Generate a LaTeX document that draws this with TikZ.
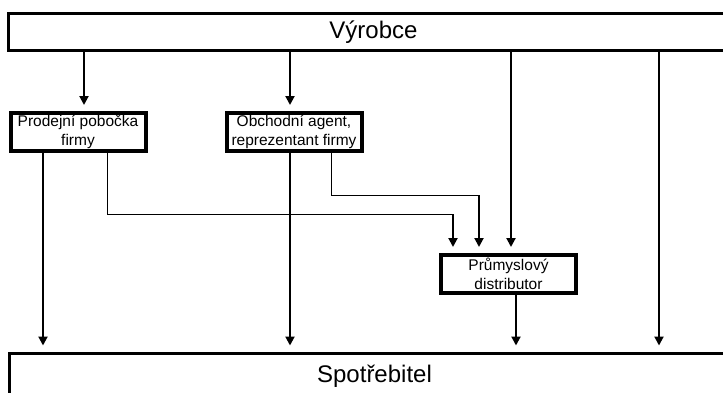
\documentclass[tikz,border=0pt]{standalone}
\usepackage{fontspec}
\setmainfont{Liberation Sans}
\usetikzlibrary{arrows.meta}

\begin{document}
\begin{tikzpicture}[x=1pt,y=-1pt,
    >={Triangle[length=9pt,width=9pt]},
    bigbox/.style={draw,line width=3pt,inner sep=0pt,minimum width=730pt,
      minimum height=37pt,font=\fontsize{24}{28}\selectfont},
    smallbox/.style={draw,line width=4pt,inner sep=0pt,minimum width=135pt,
      minimum height=38pt,align=center,font=\fontsize{15.5}{19}\selectfont},
    arr/.style={->,line width=2pt,shorten >=6pt},
    thinline/.style={line width=1pt}]
  \clip (0,0) rectangle (723,392);
  \node[bigbox] (vyrobce) at (373.5,31.7) {Výrobce};
  \node[smallbox] (prodejni) at (78,132) {Prodejní pobočka\\firmy};
  \node[smallbox] (obchodni) at (294,132) {Obchodní agent,\\reprezentant firmy};
  \node[smallbox] (prumysl) at (508.5,274) {Průmyslový\\distributor};
  \node[bigbox,minimum height=46pt] (spotreb) at (374.5,376) {Spotřebitel};
  % columns of the connectors
  \coordinate (c1) at (84,0);
  \coordinate (c2) at (290,0);
  \coordinate (c3) at (511,0);
  \coordinate (c4) at (659,0);
  \coordinate (c5) at (43,0);
  \coordinate (c6) at (107,0);
  \coordinate (c7) at (331,0);
  \coordinate (c8) at (516,0);
  \coordinate (k1) at (453,214);
  \coordinate (k2) at (479,195);
  \draw[arr] (vyrobce.south -| c1) -- (prodejni.north -| c1);
  \draw[arr] (vyrobce.south -| c2) -- (obchodni.north -| c2);
  \draw[arr] (vyrobce.south -| c3) -- (prumysl.north -| c3);
  \draw[arr] (vyrobce.south -| c4) -- (spotreb.north -| c4);
  \draw[arr] (prodejni.south -| c5) -- (spotreb.north -| c5);
  \draw[arr] (obchodni.south -| c2) -- (spotreb.north -| c2);
  \draw[arr] (prumysl.south -| c8) -- (spotreb.north -| c8);
  % via the distributor
  \draw[thinline] (prodejni.south -| c6) |- (k1);
  \draw[arr] (k1) -- (prumysl.north -| k1);
  \draw[thinline] (obchodni.south -| c7) |- (k2);
  \draw[arr] (k2) -- (prumysl.north -| k2);
\end{tikzpicture}
\end{document}
